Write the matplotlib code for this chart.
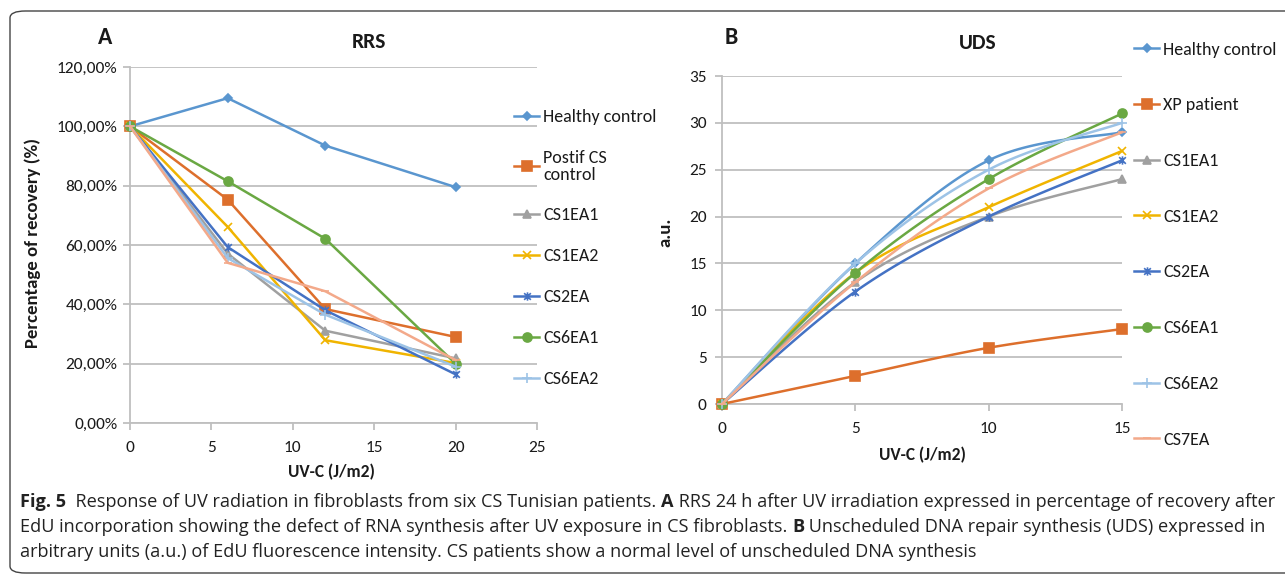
import numpy as np
import matplotlib
matplotlib.use("Agg")
import matplotlib.pyplot as plt
from matplotlib import font_manager as fm
from matplotlib.lines import Line2D
from matplotlib.path import Path
from matplotlib.patches import FancyBboxPatch
from matplotlib.ticker import FuncFormatter

# ---------------- data ----------------
rrs_x = [0, 6, 12, 20]
rrs_labels = ["Healthy control", "Postif CS\ncontrol", "CS1EA1", "CS1EA2",
              "CS2EA", "CS6EA1", "CS6EA2", "CS7EA"]
rrs_healthy = [100, 109.5, 93.5, 79.5]
rrs_postif = [100, 75.3, 38.4, 29.0]
rrs_cs1ea1 = [100, 57.1, 31.1, 21.8]
rrs_cs1ea2 = [100, 66.1, 27.9, 20.2]
rrs_cs2ea = [100, 59.3, 38.0, 16.4]
rrs_cs6ea1 = [100, 81.5, 62.1, 20.0]
rrs_cs6ea2 = [100, 55.6, 36.5, 19.0]
rrs_cs7ea = [100, 54.0, 44.4, 21.2]
rrs_legend_count = 7  # CS7EA entry is cut off in the original legend

uds_x = [0, 5, 10, 15]
uds_labels = ["Healthy control", "XP patient", "CS1EA1", "CS1EA2",
              "CS2EA", "CS6EA1", "CS6EA2", "CS7EA"]
uds_healthy = [0, 15, 26, 29]
uds_xp = [0, 3, 6, 8]
uds_cs1ea1 = [0, 13, 20, 24]
uds_cs1ea2 = [0, 14, 21, 27]
uds_cs2ea = [0, 12, 20, 26]
uds_cs6ea1 = [0, 14, 24, 31]
uds_cs6ea2 = [0, 15, 25, 30]
uds_cs7ea = [0, 13, 23, 29]

rrs_xticks = [0, 5, 10, 15, 20, 25]
rrs_yticks = [0, 20, 40, 60, 80, 100, 120]
uds_xticks = [0, 5, 10, 15]
uds_yticks = [0, 5, 10, 15, 20, 25, 30, 35]

caption_lines = [
    [("Fig. 5", "bold"), ("  Response of UV radiation in fibroblasts from six CS Tunisian patients. ", "normal"),
     ("A", "bold"), (" RRS 24 h after UV irradiation expressed in percentage of recovery after", "normal")],
    [("EdU incorporation showing the defect of RNA synthesis after UV exposure in CS fibroblasts. ", "normal"),
     ("B", "bold"), (" Unscheduled DNA repair synthesis (UDS) expressed in", "normal")],
    [("arbitrary units (a.u.) of EdU fluorescence intensity. CS patients show a normal level of unscheduled DNA synthesis", "normal")],
]

# ---------------- styles ----------------
star = Path([(-1, -1), (1, 1), (-1, 1), (1, -1), (0, -1.25), (0, 1.25)],
            [Path.MOVETO, Path.LINETO, Path.MOVETO, Path.LINETO, Path.MOVETO, Path.LINETO])
colors = ["#5A96CF", "#DD6F2C", "#A0A0A0", "#F0B400", "#4472C4", "#6AA843", "#9DC3E6", "#F3A98A"]
markers = ["D", "s", "^", "x", star, "o", "+", "_"]
msizes = [4.5, 6.5, 6, 6, 6, 6.5, 7, 6]


def pick(cands):
    for c in cands:
        try:
            fm.findfont(fm.FontProperties(family=c), fallback_to_default=False)
            return c
        except Exception:
            pass
    return "DejaVu Sans"


chart_font = pick(["Carlito", "Lato", "Open Sans"])
cap_font = pick(["Liberation Sans Narrow", "Open Sans", "Noto Sans"])

W, H = 1285, 576
fig = plt.figure(figsize=(W / 100, H / 100), dpi=100)


def fx(px):
    return px / W


def fy(py):
    return 1 - py / H


GRID = "#BFBFBF"
TXT = "#1a1a1a"


def style_axes(ax):
    for s in ["top", "right"]:
        ax.spines[s].set_visible(False)
    for s in ["left", "bottom"]:
        ax.spines[s].set_color(GRID)
        ax.spines[s].set_linewidth(1.3)
    ax.grid(axis="y", color=GRID, lw=1.3)
    ax.set_axisbelow(True)
    ax.tick_params(axis="both", direction="out", color=GRID, width=1.3, length=5,
                   labelsize=12.5, labelcolor=TXT)
    for lab in ax.get_xticklabels() + ax.get_yticklabels():
        lab.set_family(chart_font)


def smooth(x, y, n=40):
    pts = np.column_stack([x, y]).astype(float)
    out = []
    for i in range(len(pts) - 1):
        p0 = pts[max(i - 1, 0)]
        p1 = pts[i]
        p2 = pts[i + 1]
        p3 = pts[min(i + 2, len(pts) - 1)]
        c1 = p1 + (p2 - p0) / 6
        c2 = p2 - (p3 - p1) / 6
        t = np.linspace(0, 1, n)[:, None]
        seg = (1 - t) ** 3 * p1 + 3 * (1 - t) ** 2 * t * c1 + 3 * (1 - t) * t ** 2 * c2 + t ** 3 * p2
        out.append(seg if i == 0 else seg[1:])
    return np.vstack(out)


def handle(i):
    return Line2D([], [], color=colors[i], lw=1.8, marker=markers[i], ms=msizes[i],
                  mfc=colors[i], mec=colors[i], mew=1.2)


LEG_SIZE = 13

# ---------------- panel A ----------------
axA = fig.add_axes([fx(130), fy(423), (537 - 130) / W, (423 - 67) / H])
rrs_series = [rrs_healthy, rrs_postif, rrs_cs1ea1, rrs_cs1ea2, rrs_cs2ea, rrs_cs6ea1, rrs_cs6ea2, rrs_cs7ea]
for i, ys in enumerate(rrs_series):
    axA.plot(rrs_x, ys, color=colors[i], lw=1.8, marker=markers[i], ms=msizes[i],
             mfc=colors[i], mec=colors[i], mew=1.2, clip_on=False, zorder=3 + i)
axA.set_xlim(0, 25)
axA.set_ylim(0, 120)
axA.set_xticks(rrs_xticks)
axA.set_yticks(rrs_yticks)
axA.yaxis.set_major_formatter(FuncFormatter(lambda v, p: f"{v:.2f}".replace(".", ",") + "%"))
style_axes(axA)
axA.tick_params(axis="x", pad=8)
axA.tick_params(axis="y", pad=4)

legA = axA.legend([handle(i) for i in range(rrs_legend_count)], rrs_labels[:rrs_legend_count],
                  loc="upper left", bbox_to_anchor=(fx(514), fy(109)), bbox_transform=fig.transFigure,
                  frameon=False, handlelength=1.4, handletextpad=0.22, labelspacing=1.38,
                  borderpad=0, borderaxespad=0, prop={"family": chart_font, "size": LEG_SIZE})
for t in legA.get_texts():
    t.set_color(TXT)
    t.set_linespacing(1.05)

fig.text(fx(105), fy(38), "A", fontsize=17, fontweight="bold", family=chart_font, ha="center", va="center",
         color=TXT)
fig.text(fx(369), fy(42), "RRS", fontsize=15.5, fontweight="bold", family=chart_font, ha="center",
         va="center", color=TXT)
fig.text(fx(33), fy(243), "Percentage of recovery (%)", fontsize=13.5, fontweight="bold", family=chart_font,
         rotation=90, ha="center", va="center", color=TXT)
fig.text(fx(331), fy(472), "UV-C (J/m2)", fontsize=12.5, fontweight="bold", family=chart_font,
         ha="center", va="center", color=TXT)

# ---------------- panel B ----------------
axB = fig.add_axes([fx(722), fy(404), 400 / W, 328 / H])
uds_series = [uds_healthy, uds_xp, uds_cs1ea1, uds_cs1ea2, uds_cs2ea, uds_cs6ea1, uds_cs6ea2, uds_cs7ea]
for i, ys in enumerate(uds_series):
    c = smooth(uds_x, ys)
    axB.plot(c[:, 0], c[:, 1], color=colors[i], lw=1.8, clip_on=False, zorder=3 + i)
    axB.plot(uds_x, ys, ls="none", marker=markers[i], ms=msizes[i], mfc=colors[i], mec=colors[i],
             mew=1.2, clip_on=False, zorder=3 + i)
axB.set_xlim(0, 15)
axB.set_ylim(0, 35)
axB.set_xticks(uds_xticks)
axB.set_yticks(uds_yticks)
style_axes(axB)
axB.tick_params(axis="x", pad=8)
axB.tick_params(axis="y", pad=6)

legB = axB.legend([handle(i) for i in range(len(uds_labels))], uds_labels,
                  loc="upper left", bbox_to_anchor=(fx(1134), fy(41.5)), bbox_transform=fig.transFigure,
                  frameon=False, handlelength=1.4, handletextpad=0.22, labelspacing=2.2,
                  borderpad=0, borderaxespad=0, prop={"family": chart_font, "size": LEG_SIZE})
for t in legB.get_texts():
    t.set_color(TXT)

fig.text(fx(731), fy(37), "B", fontsize=17, fontweight="bold", family=chart_font, ha="center", va="center",
         color=TXT)
fig.text(fx(978), fy(43), "UDS", fontsize=15.5, fontweight="bold", family=chart_font, ha="center",
         va="center", color=TXT)
fig.text(fx(665), fy(232), "a.u.", fontsize=13.5, fontweight="bold", family=chart_font,
         rotation=90, ha="center", va="center", color=TXT)
fig.text(fx(922), fy(455), "UV-C (J/m2)", fontsize=12.5, fontweight="bold", family=chart_font,
         ha="center", va="center", color=TXT)

# ---------------- frame ----------------
frame = FancyBboxPatch((fx(10), fy(573)), fx(1400) - fx(10), fy(11) - fy(573),
                       boxstyle="round,pad=0,rounding_size=0.012", transform=fig.transFigure,
                       fill=False, ec="#444444", lw=1.0, clip_on=False)
fig.patches.append(frame)

# ---------------- caption ----------------
renderer = fig.canvas.get_renderer()


def run_width(runs, size):
    total = 0
    for s, w in runs:
        t = fig.text(0, 0, s, fontsize=size, fontweight=w, family=cap_font)
        total += t.get_window_extent(renderer).width
        t.remove()
    return total


cap_size = 10 * (1278 - 20) / run_width(caption_lines[0], 10)
for k, (runs, y) in enumerate(zip(caption_lines, [502, 527, 552])):
    x = 20
    for s, w in runs:
        t = fig.text(fx(x), fy(y), s, fontsize=cap_size, fontweight=w, family=cap_font,
                     ha="left", va="center", color="#222222")
        x += t.get_window_extent(renderer).width

fig.savefig("out.png", dpi=100)
